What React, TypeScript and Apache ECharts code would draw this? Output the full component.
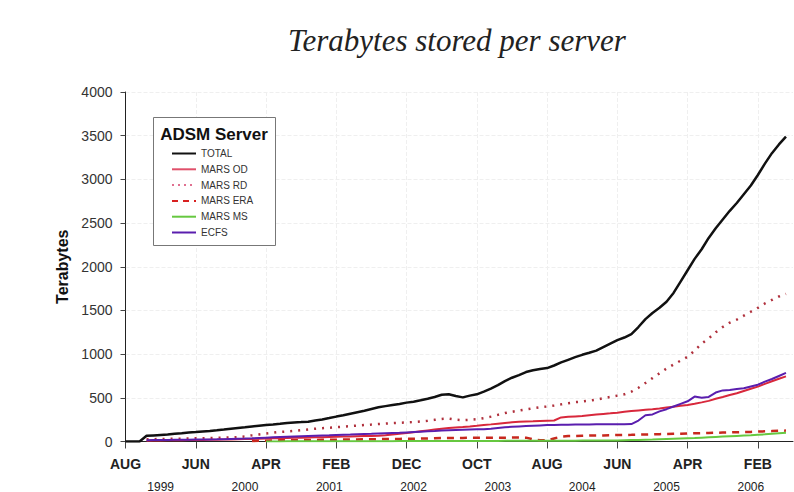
import React, { useEffect, useRef } from "react";
import * as echarts from "echarts";

// month index 0 = AUG 1999
const monthTickValues = [0, 10, 20, 30, 40, 50, 60, 70, 80, 90];
const monthTickLabels = ["AUG", "JUN", "APR", "FEB", "DEC", "OCT", "AUG", "JUN", "APR", "FEB"];
const yearTickValues = [5, 17, 29, 41, 53, 65, 77, 89];
const yearTickLabels = ["1999", "2000", "2001", "2002", "2003", "2004", "2005", "2006"];
const yTicks = [0, 500, 1000, 1500, 2000, 2500, 3000, 3500, 4000];

const legendTitle = "ADSM Server";
const seriesNames = ["TOTAL", "MARS OD", "MARS RD", "MARS ERA", "MARS MS", "ECFS"];

// values per month (index = month since AUG 1999); null = not yet present
const total = [
  0, 0, 0, 65, 70, 75, 80, 88, 95, 103,
  108, 115, 120, 128, 137, 147, 155, 163, 172, 180,
  188, 195, 203, 212, 218, 222, 227, 240, 252, 268,
  285, 300, 318, 335, 352, 372, 392, 405, 418, 430,
  445, 456, 472, 490, 510, 535, 540, 520, 505, 525,
  540, 570, 605, 645, 690, 730, 760, 795, 815, 830,
  840, 870, 905, 935, 965, 992, 1015, 1040, 1080, 1120,
  1160, 1190, 1230, 1310, 1400, 1470, 1530, 1600, 1700, 1830,
  1960, 2090, 2200, 2330, 2440, 2540, 2640, 2730, 2830, 2930,
  3050, 3180, 3300, 3400, 3490,
];
const marsOD = [
  null, null, null, 10, 11, 12, 13, 14, 15, 16,
  17, 18, 19, 20, 22, 24, 26, 28, 30, 32,
  34, 36, 38, 40, 42, 44, 46, 48, 50, 52,
  54, 56, 58, 60, 62, 64, 66, 72, 80, 88,
  97, 106, 116, 126, 136, 146, 155, 160, 165, 172,
  180, 189, 196, 204, 212, 220, 226, 230, 232, 235,
  238, 240, 276, 282, 287, 292, 300, 308, 315, 322,
  330, 340, 348, 356, 363, 369, 378, 388, 398, 408,
  418, 432, 448, 465, 490, 510, 532, 552, 578, 603,
  628, 660, 690, 718, 745,
];
const marsRD = [
  null, null, null, 25, 27, 28, 30, 32, 33, 35,
  36, 38, 40, 42, 44, 46, 50, 58, 70, 80,
  90, 100, 110, 115, 122, 130, 138, 146, 152, 158,
  164, 170, 176, 182, 188, 194, 200, 205, 210, 214,
  218, 223, 230, 238, 248, 258, 262, 250, 245, 248,
  255, 268, 285, 305, 325, 340, 355, 368, 380, 392,
  400, 412, 425, 438, 450, 458, 468, 480, 495, 510,
  525, 540, 570, 615, 670, 725, 780, 835, 880, 925,
  970, 1040, 1120, 1180, 1250, 1310, 1360, 1395, 1440, 1485,
  1530, 1580, 1620, 1660, 1690,
];
const marsERA = [
  null, null, null, null, null, null, null, null, null, null,
  null, null, null, null, null, null, null, null, 5, 8,
  10, 12, 13, 14, 15, 16, 17, 18, 19, 20,
  21, 22, 23, 24, 25, 26, 27, 28, 29, 30,
  31, 32, 33, 35, 37, 39, 40, 40, 41, 42,
  42, 43, 43, 44, 44, 45, 45, 44, 25, 15,
  12, 35, 55, 62, 64, 66, 68, 69, 70, 72,
  74, 75, 76, 78, 80, 82, 84, 86, 88, 90,
  92, 94, 96, 98, 100, 102, 104, 106, 108, 110,
  113, 116, 119, 122, 125,
];
const marsMS = [
  null, null, null, null, null, null, null, null, null, null,
  null, null, null, null, null, null, null, null, null, null,
  1, 1, 1, 2, 2, 2, 2, 2, 3, 3,
  3, 3, 3, 3, 4, 4, 4, 4, 4, 5,
  5, 5, 5, 5, 6, 6, 6, 6, 6, 7,
  7, 7, 7, 7, 8, 8, 8, 8, 9, 9,
  9, 9, 10, 10, 10, 11, 11, 11, 12, 12,
  12, 14, 16, 18, 20, 22, 25, 28, 31, 34,
  37, 40, 44, 48, 52, 56, 60, 64, 68, 72,
  77, 82, 88, 94, 100,
];
const ecfs = [
  null, null, null, 15, 16, 17, 18, 19, 20, 21,
  22, 23, 24, 25, 27, 29, 31, 33, 36, 40,
  44, 48, 52, 55, 58, 61, 64, 67, 70, 72,
  75, 78, 80, 83, 86, 88, 91, 94, 97, 100,
  104, 108, 112, 116, 120, 125, 130, 133, 135, 137,
  139, 141, 147, 155, 162, 168, 172, 176, 180, 184,
  188, 190, 192, 193, 194, 195, 195, 196, 196, 197,
  197, 197, 200, 240, 300, 310, 345, 370, 400, 430,
  460, 514, 500, 510, 560, 585, 590, 600, 610, 630,
  650, 685, 715, 750, 785,
];

const seriesValues = [total, marsOD, marsRD, marsERA, marsMS, ecfs];
const seriesColors = ["#111111", "#d8283c", "#b0303c", "#c8281e", "#66c840", "#5a1eae"];
const legendColors = ["#111111", "#e0506a", "#e07090", "#d82020", "#66c840", "#5a1eae"];
const seriesDash: any[] = ["solid", "solid", [2, 6], [7, 6], "solid", "solid"];
const legendDash: any[] = [null, null, [2, 4], [6, 5], null, null];
const seriesWidth = [2.5, 2, 2.5, 2.5, 2, 2];

function toPairs(arr: (number | null)[]) {
  return arr.map((v, i) => [i, v]);
}

export default function App() {
  const ref = useRef<HTMLDivElement>(null);
  useEffect(() => {
    if (!ref.current) return;
    const chart = echarts.init(ref.current, undefined, { renderer: "svg" });
    const sans = "Liberation Sans, Arial, sans-serif";

    const legendGraphics: any[] = [
      {
        type: "rect",
        shape: { x: 153.5, y: 117.5, width: 122, height: 128 },
        style: { fill: "#ffffff", stroke: "#777", lineWidth: 1 },
        z: 10,
      },
      {
        type: "text",
        x: 214,
        y: 134,
        style: {
          text: legendTitle,
          fontFamily: sans,
          fontSize: 17,
          fontWeight: "bold",
          fill: "#111",
          align: "center",
          verticalAlign: "middle",
        },
        z: 11,
      },
    ];
    seriesNames.forEach((name, k) => {
      const y = 153.5 + k * 15.8;
      legendGraphics.push({
        type: "line",
        shape: { x1: 172, y1: y, x2: 196, y2: y },
        style: {
          stroke: legendColors[k],
          lineWidth: 2,
          lineDash: legendDash[k] || undefined,
        },
        z: 11,
      });
      legendGraphics.push({
        type: "text",
        x: 201,
        y: y,
        style: {
          text: name,
          fontFamily: sans,
          fontSize: 10,
          fill: "#333",
          align: "left",
          verticalAlign: "middle",
        },
        z: 11,
      });
    });

    const option: any = {
      animation: false,
      backgroundColor: "#ffffff",
      title: {
        text: "Terabytes stored per server",
        left: 452,
        top: 20,
        textAlign: "center",
        textStyle: {
          fontFamily: "Liberation Serif, serif",
          fontStyle: "italic",
          fontWeight: "normal",
          fontSize: 31,
          color: "#222",
        },
      },
      grid: {
        left: 125.5,
        right: 1,
        top: 92,
        bottom: 50.5,
        containLabel: false,
        outerBoundsMode: "none",
      },
      xAxis: [
        {
          type: "value",
          min: 0,
          max: 95,
          interval: 10,
          axisLine: { show: true, lineStyle: { color: "#222", width: 1 } },
          axisTick: { show: true, length: 7, lineStyle: { color: "#444" }, customValues: monthTickValues },
          splitLine: { show: true, lineStyle: { color: "#efefef", type: "dashed" } },
          axisLabel: {
            customValues: monthTickValues,
            margin: 15,
            fontFamily: sans,
            fontSize: 14,
            fontWeight: "bold",
            color: "#222",
            formatter: (v: number) => {
              const i = monthTickValues.indexOf(Math.round(v));
              return i >= 0 ? monthTickLabels[i] : "";
            },
          },
        },
        {
          type: "value",
          position: "bottom",
          min: 0,
          max: 95,
          axisLine: { show: false },
          axisTick: { show: false },
          splitLine: { show: false },
          axisLabel: {
            customValues: yearTickValues,
            margin: 39,
            fontFamily: sans,
            fontSize: 12,
            color: "#222",
            formatter: (v: number) => {
              const i = yearTickValues.indexOf(Math.round(v));
              return i >= 0 ? yearTickLabels[i] : "";
            },
          },
        },
      ],
      yAxis: {
        type: "value",
        min: yTicks[0],
        max: yTicks[yTicks.length - 1],
        interval: 500,
        name: "Terabytes",
        nameLocation: "middle",
        nameGap: 44,
        nameTextStyle: { fontFamily: sans, fontSize: 16, fontWeight: "bold", color: "#111" },
        axisLine: { show: true, lineStyle: { color: "#222", width: 1 } },
        axisTick: { show: true, length: 5, lineStyle: { color: "#444" } },
        splitLine: { show: true, lineStyle: { color: "#efefef", type: "dashed" } },
        axisLabel: {
          margin: 13,
          fontFamily: sans,
          fontSize: 14,
          color: "#333",
          formatter: (v: number) => String(v),
        },
      },
      graphic: legendGraphics,
      series: seriesNames.map((name, k) => ({
        name,
        type: "line",
        xAxisIndex: 0,
        showSymbol: false,
        symbol: "none",
        smooth: false,
        connectNulls: false,
        data: toPairs(seriesValues[k]),
        itemStyle: { color: seriesColors[k] },
        lineStyle: { color: seriesColors[k], width: seriesWidth[k], type: seriesDash[k] },
        z: 2 + k,
      })),
    };
    chart.setOption(option);
    return () => chart.dispose();
  }, []);
  return (
    <div
      ref={ref}
      style={{ position: "fixed", left: 0, top: 0, width: 794, height: 492, background: "#fff" }}
    />
  );
}
